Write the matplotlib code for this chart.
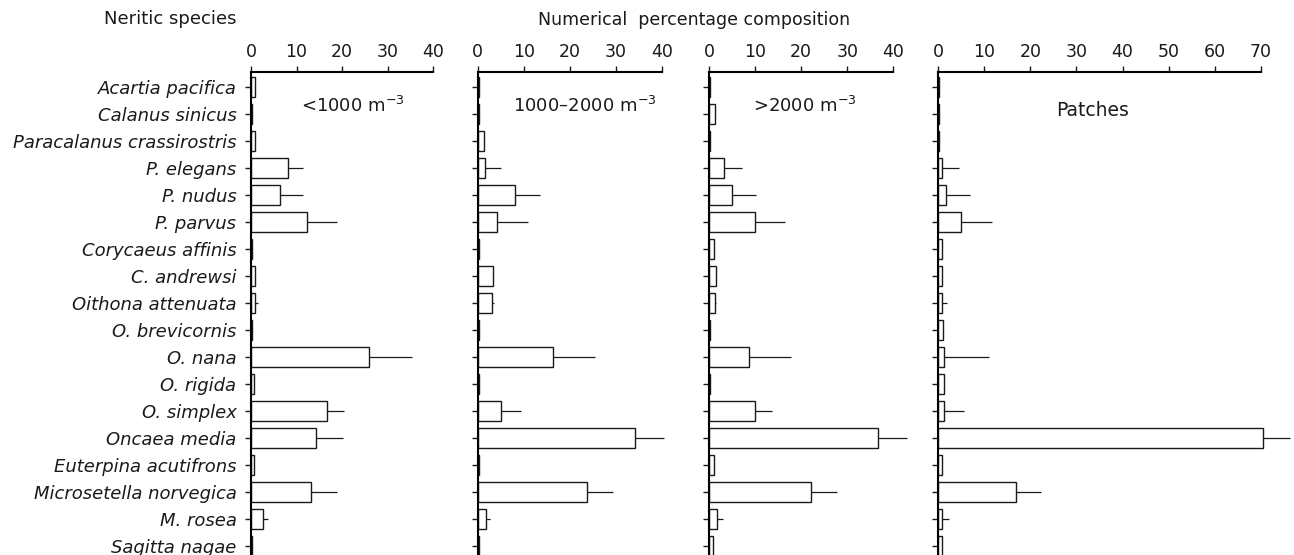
import matplotlib
matplotlib.use("Agg")
import matplotlib.pyplot as plt
import numpy as np

plt.rcParams['font.family'] = ['DejaVu Sans']
plt.rcParams['mathtext.fontset'] = 'dejavusans'

species = ["Acartia pacifica", "Calanus sinicus", "Paracalanus crassirostris",
           "P. elegans", "P. nudus", "P. parvus", "Corycaeus affinis",
           "C. andrewsi", "Oithona attenuata", "O. brevicornis", "O. nana",
           "O. rigida", "O. simplex", "Oncaea media", "Euterpina acutifrons",
           "Microsetella norvegica", "M. rosea", "Sagitta nagae"]

low_mean = [0.8, 0.2, 0.8, 8.1, 6.4, 12.2, 0.3, 0.8, 0.9, 0.2, 26.0, 0.7,
            16.8, 14.3, 0.7, 13.1, 2.7, 0.2]
low_sd = [0, 0, 0, 3.3, 5.0, 6.6, 0, 0, 0.6, 0, 9.3, 0, 3.7, 6.0, 0, 5.7, 1.1, 0]

mid_mean = [0.2, 0.2, 1.45, 1.6, 8.0, 4.3, 0.2, 3.4, 3.0, 0.2, 16.3, 0.3,
            5.1, 34.2, 0.3, 23.8, 1.7, 0.3]
mid_sd = [0, 0, 0, 3.5, 5.5, 6.7, 0, 0, 0.5, 0, 9.2, 0, 4.3, 6.4, 0, 5.7, 1.0, 0]

high_mean = [0.3, 1.3, 0.3, 3.3, 4.9, 10.0, 1.15, 1.5, 1.2, 0.2, 8.7, 0.3,
             10.0, 36.6, 1.15, 22.1, 1.8, 0.9]
high_sd = [0, 0, 0, 3.8, 5.4, 6.6, 0, 0, 0.4, 0, 9.2, 0, 3.7, 6.3, 0, 5.6, 1.2, 0]

patch_mean = [0.2, 0.2, 0.2, 0.9, 1.6, 4.9, 0.9, 0.7, 0.9, 1.0, 1.2, 1.2,
              1.2, 70.4, 0.8, 16.9, 0.8, 0.9]
patch_sd = [0, 0, 0, 3.7, 5.3, 6.8, 0, 0, 0.9, 0, 9.7, 0, 4.4, 6.0, 0, 5.4, 1.5, 0]

panel_labels = [r'<1000 m$^{-3}$', '1000\u20132000 m$^{-3}$', r'>2000 m$^{-3}$', 'Patches']
panel_max = [40, 40, 40, 70]
panel_ticks = [[0, 10, 20, 30, 40], [0, 10, 20, 30, 40], [0, 10, 20, 30, 40],
               [0, 10, 20, 30, 40, 50, 60, 70]]

W, H = 1294, 555
fig = plt.figure(figsize=(W / 100, H / 100), dpi=100)

extents = [(251, 433), (477.7, 661.7), (709, 893.3), (938.3, 1260.7)]
top_px = 72
label_pos = [(353, 106), (585, 106), (805, 106), (1093, 111)]
label_size = [13, 13, 13, 13.5]

means = [low_mean, mid_mean, high_mean, patch_mean]
sds = [low_sd, mid_sd, high_sd, patch_sd]

y = np.arange(len(species))
row_px = 27.0
ytop = -(87 - top_px) / row_px
ybot = ytop + (H - top_px) / row_px

ink = '#1a1a1a'
for i in range(4):
    x0, x1 = extents[i]
    ax = fig.add_axes([x0 / W, 0, (x1 - x0) / W, (H - top_px) / H])
    ax.set_xlim(0, panel_max[i])
    ax.set_ylim(ybot, ytop)
    m = np.array(means[i])
    s = np.array(sds[i])
    ax.barh(y, m, height=0.74, color='white', edgecolor=ink,
            linewidth=1.0, clip_on=False, zorder=2)
    for yi, mi, si in zip(y, m, s):
        if si > 0:
            ax.plot([mi, mi + si], [yi, yi], color=ink, lw=0.9,
                    clip_on=False, zorder=3, solid_capstyle='butt')
    ax.spines['right'].set_visible(False)
    ax.spines['bottom'].set_visible(False)
    ax.spines['top'].set_linewidth(1.5)
    ax.spines['left'].set_linewidth(1.5)
    ax.spines['top'].set_bounds(0, panel_max[i])
    ax.xaxis.tick_top()
    ax.set_xticks(panel_ticks[i])
    ax.tick_params(axis='x', direction='out', length=4, width=1.0, pad=4,
                   labelsize=12.5, colors=ink)
    ax.set_yticks(y)
    ax.tick_params(axis='y', direction='out', length=4, width=1.0, pad=6.5,
                   labelsize=13, colors=ink)
    if i == 0:
        ax.set_yticklabels(species, fontstyle='italic')
    else:
        ax.set_yticklabels([])
    ax.set_facecolor('none')
    lx, ly = label_pos[i]
    fig.text(lx / W, 1 - ly / H, panel_labels[i], ha='center', va='center',
             fontsize=label_size[i], color=ink)

fig.text(236 / W, 1 - 19 / H, 'Neritic species', ha='right', va='center',
         fontsize=13, color=ink)
fig.text(694 / W, 1 - 20 / H, 'Numerical  percentage composition', ha='center',
         va='center', fontsize=12.5, color=ink)

fig.savefig('out.png', dpi=100)
